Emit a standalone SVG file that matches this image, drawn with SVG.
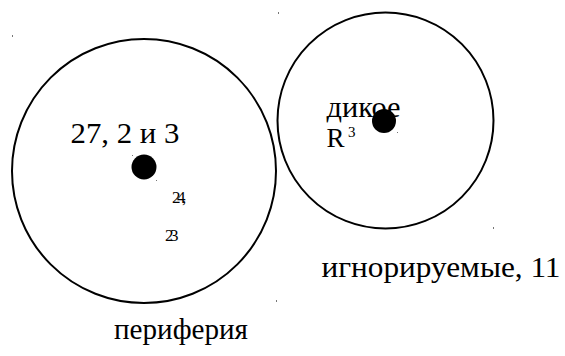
<svg xmlns="http://www.w3.org/2000/svg" width="565" height="356" viewBox="0 0 565 356">
<style>
.ring{fill:none;stroke:#000;stroke-width:2}
.dot{fill:#000}
.t{font-family:'Liberation Serif','DejaVu Serif',serif;fill:#000}
.big{font-size:30px}
.small{font-size:17px;letter-spacing:-3.5px}
.speck{fill:#777}
</style>
<rect width="565" height="356" fill="#fff"/>
<g id="periphery">
<circle class="ring" cx="144" cy="171" r="132"/>
<circle class="dot" cx="144" cy="167" r="12.5"/>
<text class="t big" x="70.5" y="142.5" textLength="109" lengthAdjust="spacingAndGlyphs">27, 2 и 3</text>
<text class="t small" x="172" y="203">24,</text>
<text class="t small" x="165" y="241">23</text>
<rect class="speck" x="132" y="155" width="1" height="1"/>
<rect class="speck" x="156" y="180" width="1" height="1"/>
<text class="t big" x="114" y="338.5" textLength="134" lengthAdjust="spacingAndGlyphs">периферия</text>
</g>
<g id="ignored">
<circle class="ring" cx="385.5" cy="120.5" r="108"/>
<text class="t big" x="326.5" y="116.5" textLength="74" lengthAdjust="spacingAndGlyphs">дикое</text>
<circle class="dot" cx="384" cy="121" r="12"/>
<text class="t" x="326.5" y="147" font-size="27px">R</text>
<text class="t" x="348" y="137" font-size="15px">3</text>
<rect class="speck" x="397" y="132" width="1" height="1"/>
<text class="t big" x="321.5" y="276.5" textLength="239" lengthAdjust="spacingAndGlyphs">игнорируемые, 11</text>
</g>
<g id="connectors"></g>
<g id="specks">
<rect class="speck" x="12" y="35" width="1" height="2"/>
<rect class="speck" x="278" y="12" width="1" height="2"/>
<rect class="speck" x="493" y="227" width="1" height="2"/>
<rect class="speck" x="276" y="300" width="1" height="2"/>
</g>
</svg>
